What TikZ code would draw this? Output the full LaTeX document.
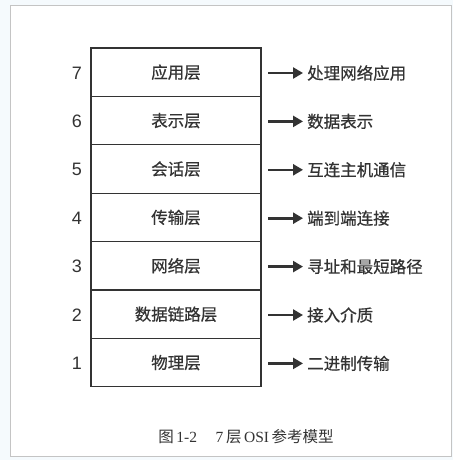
\documentclass[tikz,border=0pt]{standalone}
\usepackage{fontspec}
\setmainfont{Liberation Serif}
\setsansfont{Liberation Sans}
\newfontfamily\cjk[FakeBold=0.6]{Noto Sans CJK SC}
\newfontfamily\cjkcap{Noto Sans CJK SC}
\usetikzlibrary{arrows.meta}
\definecolor{bgblue}{HTML}{F5FAFD}
\definecolor{framegray}{HTML}{C4C4C4}
\definecolor{ink}{HTML}{333333}
\tikzset{
  layer/.style={draw=ink, line width=1.2pt, minimum width=170pt, minimum height=48.4pt, inner sep=0pt, font=\cjk\fontsize{16.5}{16.5}\selectfont, text=ink},
  num/.style={font=\sffamily\fontsize{18}{18}\selectfont, text=ink, inner sep=0pt},
  desc/.style={anchor=west, font=\cjk\fontsize{16.5}{16.5}\selectfont, text=ink, inner sep=0pt},
  arr/.style={-{Triangle[length=10pt,width=11pt]}, line width=2.6pt, draw=ink, shorten >=4pt},
}
\begin{document}
\begin{tikzpicture}[x=1pt,y=-1pt]
\fill[bgblue] (0,0) rectangle (453,460);
\useasboundingbox (0,0) rectangle (453,460);
\draw[framegray, fill=white, line width=1pt] (10,5.5) rectangle (451,456);
\foreach \i/\name/\desc [count=\k from 0] in {7/应用层/处理网络应用,6/表示层/数据表示,5/会话层/互连主机通信,4/传输层/端到端连接,3/网络层/寻址和最短路径,2/数据链路层/接入介质,1/物理层/二进制传输}{
  \node[layer] (L\i) at (176, 72.2+48.4*\k) {\name};
  \node[num] (N\i) at (77, 73+48.4*\k) {\i};
  \coordinate (S\i) at (268, 73+48.4*\k);
  \node[desc] (D\i) at (307, 73+48.4*\k) {\desc};
  \draw[arr] (S\i) -- (D\i.west);
}
\node[font=\fontsize{15.5}{15.5}\selectfont, text=ink] (cap) at (246,437) {{\cjkcap 图}\,1-2\hspace{1.2em}7\,{\cjkcap 层}\,OSI\,{\cjkcap 参考模型}};
\end{tikzpicture}
\end{document}
